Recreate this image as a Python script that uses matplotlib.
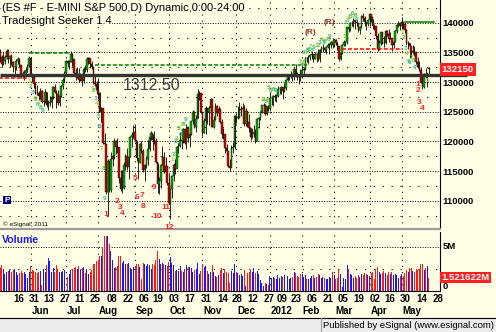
import pandas as pd
import matplotlib
matplotlib.use('Agg')
import matplotlib.pyplot as plt
from matplotlib.transforms import blended_transform_factory as blend
from matplotlib.patches import Rectangle
from matplotlib.lines import Line2D

plt.rcParams['font.family'] = ['Liberation Sans', 'DejaVu Sans']

W, H = 496, 332

title = '(ES #F - E-MINI S&P 500,D) Dynamic,0:00-24:00'
study = 'Tradesight Seeker 1.4'

# trading calendar of the chart (exchange holidays left out)
first_day = '2011-05-02'
last_day = '2012-05-24'
holidays = ['2011-05-30', '2011-07-04', '2011-09-05', '2011-11-24', '2011-12-26',
            '2012-01-02', '2012-01-16', '2012-02-20', '2012-04-06']

# daily bars, one line per month (May 2011 .. May 2012)
opens = [
    1360, 1356, 1352, 1343, 1331, 1336, 1342, 1353, 1338, 1344, 1333, 1325, 1325, 1336, 1339, 1329, 1313, 1312, 1316, 1321, 1327,
    1341, 1310, 1309, 1296, 1282, 1281, 1276, 1285, 1267, 1268, 1284, 1261, 1264, 1267, 1274, 1291, 1283, 1280, 1265, 1277, 1293, 1303,
    1316, 1335, 1332, 1334, 1348, 1339, 1315, 1309, 1313, 1304, 1311, 1301, 1322, 1321, 1339, 1340, 1331, 1326, 1300, 1296,
    1287, 1282, 1250, 1256, 1197, 1195, 1115, 1167, 1118, 1170, 1176, 1201, 1191, 1190, 1139, 1119, 1121, 1161, 1175, 1156, 1174, 1208, 1211,
    1216, 1202, 1172, 1163, 1196, 1184, 1152, 1160, 1171, 1187, 1207, 1214, 1202, 1200, 1165, 1128, 1134, 1161, 1173, 1149, 1158,
    1129, 1096, 1120, 1141, 1161, 1153, 1191, 1192, 1203, 1200, 1220, 1197, 1222, 1206, 1212, 1234, 1250, 1225, 1238, 1280, 1281,
    1249, 1214, 1234, 1257, 1249, 1257, 1272, 1225, 1236, 1260, 1248, 1254, 1233, 1212, 1212, 1189, 1184, 1158, 1155, 1189, 1191,
    1243, 1240, 1240, 1253, 1254, 1257, 1230, 1251, 1232, 1222, 1208, 1212, 1216, 1201, 1237, 1239, 1250, 1261, 1262, 1246, 1259,
    1254, 1273, 1273, 1277, 1274, 1276, 1288, 1288, 1291, 1285, 1290, 1304, 1310, 1311, 1312, 1311, 1322, 1314, 1312, 1309,
    1308, 1320, 1322, 1341, 1340, 1343, 1346, 1348, 1339, 1348, 1347, 1339, 1354, 1357, 1358, 1354, 1359, 1362, 1363, 1368,
    1362, 1370, 1366, 1360, 1339, 1349, 1362, 1367, 1367, 1392, 1390, 1399, 1400, 1405, 1401, 1399, 1388, 1393, 1412, 1408, 1401, 1398,
    1404, 1414, 1409, 1395, 1394, 1378, 1355, 1365, 1384, 1366, 1365, 1386, 1381, 1372, 1374, 1363, 1367, 1386, 1396, 1399,
    1394, 1402, 1398, 1387, 1365, 1366, 1360, 1351, 1353, 1350, 1334, 1326, 1320, 1300, 1292, 1314, 1312, 1324,
]
highs = [
    1366, 1358, 1355, 1346, 1350, 1345, 1355, 1356, 1346, 1347, 1335, 1328, 1338, 1342, 1340, 1324, 1319, 1320, 1326, 1330, 1344,
    1343, 1316, 1313, 1300, 1295, 1285, 1290, 1286, 1275, 1288, 1284, 1270, 1276, 1277, 1294, 1296, 1286, 1286, 1281, 1295, 1306, 1319,
    1337, 1337, 1337, 1352, 1349, 1338, 1323, 1326, 1323, 1316, 1312, 1325, 1329, 1343, 1343, 1337, 1335, 1327, 1313, 1301,
    1306, 1284, 1258, 1255, 1214, 1177, 1171, 1166, 1182, 1189, 1205, 1203, 1206, 1189, 1151, 1151, 1166, 1179, 1189, 1179, 1209, 1216, 1227,
    1228, 1201, 1172, 1197, 1201, 1187, 1162, 1175, 1202, 1208, 1218, 1213, 1217, 1205, 1163, 1140, 1162, 1192, 1182, 1174, 1157,
    1145, 1122, 1143, 1163, 1170, 1192, 1197, 1215, 1204, 1222, 1221, 1230, 1226, 1216, 1235, 1253, 1251, 1245, 1288, 1285, 1278,
    1238, 1240, 1260, 1257, 1259, 1273, 1263, 1243, 1264, 1262, 1259, 1257, 1238, 1222, 1206, 1196, 1184, 1170, 1194, 1199, 1245,
    1247, 1259, 1266, 1260, 1264, 1262, 1256, 1251, 1246, 1223, 1222, 1227, 1221, 1239, 1241, 1251, 1262, 1264, 1263, 1260, 1262,
    1284, 1276, 1278, 1280, 1279, 1293, 1290, 1294, 1291, 1299, 1305, 1313, 1312, 1319, 1313, 1324, 1331, 1317, 1312, 1322,
    1328, 1325, 1343, 1343, 1346, 1348, 1353, 1346, 1351, 1349, 1355, 1355, 1360, 1364, 1359, 1361, 1365, 1365, 1369, 1375,
    1373, 1372, 1367, 1357, 1350, 1364, 1371, 1369, 1393, 1396, 1401, 1403, 1408, 1404, 1405, 1398, 1395, 1413, 1417, 1411, 1402, 1406,
    1416, 1415, 1406, 1397, 1393, 1382, 1370, 1385, 1384, 1377, 1388, 1387, 1389, 1385, 1373, 1370, 1388, 1397, 1403, 1400,
    1410, 1402, 1400, 1389, 1369, 1365, 1360, 1362, 1361, 1348, 1342, 1336, 1325, 1310, 1315, 1323, 1316, 1325,
]
lows = [
    1352, 1344, 1333, 1326, 1328, 1330, 1339, 1332, 1325, 1328, 1317, 1309, 1320, 1331, 1325, 1306, 1306, 1304, 1311, 1317, 1326,
    1308, 1300, 1290, 1280, 1278, 1270, 1272, 1264, 1260, 1265, 1258, 1253, 1260, 1256, 1271, 1281, 1257, 1262, 1260, 1274, 1289, 1300,
    1313, 1326, 1322, 1333, 1327, 1313, 1303, 1307, 1300, 1301, 1293, 1299, 1317, 1317, 1331, 1323, 1322, 1297, 1293, 1279,
    1271, 1249, 1233, 1196, 1161, 1111, 1075, 1114, 1115, 1159, 1171, 1179, 1181, 1129, 1116, 1113, 1119, 1151, 1151, 1136, 1174, 1191, 1206,
    1200, 1167, 1136, 1163, 1180, 1148, 1133, 1155, 1160, 1183, 1203, 1185, 1195, 1163, 1113, 1111, 1122, 1160, 1147, 1137, 1127,
    1095, 1069, 1105, 1134, 1145, 1155, 1180, 1190, 1187, 1198, 1195, 1187, 1199, 1190, 1210, 1230, 1222, 1216, 1240, 1270, 1247,
    1209, 1214, 1212, 1230, 1228, 1249, 1224, 1222, 1236, 1242, 1236, 1231, 1206, 1204, 1181, 1176, 1156, 1150, 1164, 1181, 1187,
    1231, 1237, 1240, 1242, 1236, 1226, 1226, 1224, 1216, 1202, 1206, 1208, 1198, 1200, 1222, 1236, 1248, 1254, 1244, 1245, 1252,
    1252, 1262, 1260, 1268, 1267, 1274, 1280, 1279, 1272, 1283, 1286, 1302, 1304, 1306, 1302, 1303, 1308, 1303, 1296, 1302,
    1307, 1314, 1321, 1333, 1331, 1337, 1339, 1333, 1338, 1334, 1336, 1334, 1351, 1351, 1350, 1347, 1357, 1347, 1358, 1358,
    1359, 1362, 1354, 1336, 1337, 1348, 1360, 1360, 1364, 1384, 1386, 1395, 1393, 1390, 1395, 1384, 1381, 1391, 1403, 1394, 1387, 1394,
    1395, 1402, 1390, 1388, 1373, 1353, 1354, 1363, 1364, 1359, 1364, 1377, 1368, 1372, 1352, 1358, 1367, 1382, 1393, 1388,
    1390, 1390, 1382, 1363, 1356, 1341, 1340, 1348, 1344, 1331, 1324, 1319, 1299, 1288, 1290, 1306, 1292, 1310,
]
closes = [
    1356, 1352, 1343, 1331, 1336, 1342, 1353, 1338, 1344, 1333, 1325, 1325, 1336, 1339, 1329, 1313, 1312, 1316, 1321, 1327, 1341,
    1310, 1309, 1296, 1282, 1281, 1276, 1285, 1267, 1268, 1284, 1261, 1264, 1267, 1274, 1291, 1283, 1280, 1265, 1277, 1293, 1303, 1316,
    1335, 1332, 1334, 1348, 1339, 1315, 1309, 1313, 1304, 1311, 1301, 1322, 1321, 1339, 1340, 1331, 1326, 1300, 1296, 1287,
    1282, 1250, 1256, 1197, 1195, 1115, 1167, 1118, 1170, 1176, 1201, 1191, 1190, 1139, 1119, 1121, 1161, 1175, 1156, 1174, 1208, 1211, 1216,
    1202, 1172, 1163, 1196, 1184, 1152, 1160, 1171, 1187, 1207, 1214, 1202, 1200, 1165, 1128, 1134, 1161, 1173, 1149, 1158, 1129,
    1096, 1120, 1141, 1161, 1153, 1191, 1192, 1203, 1200, 1220, 1197, 1222, 1206, 1212, 1234, 1250, 1225, 1238, 1280, 1281, 1249,
    1214, 1234, 1257, 1249, 1257, 1272, 1225, 1236, 1260, 1248, 1254, 1233, 1212, 1212, 1189, 1184, 1158, 1155, 1189, 1191, 1243,
    1240, 1240, 1253, 1254, 1257, 1230, 1251, 1232, 1222, 1208, 1212, 1216, 1201, 1237, 1239, 1250, 1261, 1262, 1246, 1259, 1254,
    1273, 1273, 1277, 1274, 1276, 1288, 1288, 1291, 1285, 1290, 1304, 1310, 1311, 1312, 1311, 1322, 1314, 1312, 1309, 1308,
    1320, 1322, 1341, 1340, 1343, 1346, 1348, 1339, 1348, 1347, 1339, 1354, 1357, 1358, 1354, 1359, 1362, 1363, 1368, 1362,
    1370, 1366, 1360, 1339, 1349, 1362, 1367, 1367, 1392, 1390, 1399, 1400, 1405, 1401, 1399, 1388, 1393, 1412, 1408, 1401, 1398, 1404,
    1414, 1409, 1395, 1394, 1378, 1355, 1365, 1384, 1366, 1365, 1386, 1381, 1372, 1374, 1363, 1367, 1386, 1396, 1399, 1394,
    1402, 1398, 1387, 1365, 1366, 1360, 1351, 1353, 1350, 1334, 1326, 1320, 1300, 1292, 1314, 1312, 1315, 1321.5,
]
# volume in millions of contracts
volumes = [
    2.2, 2.3, 2.6, 2.9, 2.5, 1.9, 2.1, 2.3, 2.4, 2.2, 2.4, 2.5, 2.1, 1.8, 2.0, 2.3, 2.0, 2.1, 1.9, 1.5, 2.2,
    2.8, 2.4, 2.3, 2.1, 2.0, 2.2, 2.3, 0.7, 2.5, 2.2, 2.9, 3.7, 3.4, 2.2, 2.6, 2.2, 2.9, 2.5, 2.1, 2.2, 2.3, 2.4,
    2.1, 1.6, 1.9, 2.4, 2.5, 2.6, 2.7, 2.5, 2.8, 2.4, 2.6, 2.7, 2.0, 2.5, 1.9, 2.2, 2.4, 3.1, 3.0, 3.4,
    3.5, 3.9, 4.0, 5.0, 6.2, 6.2, 6.2, 5.3, 4.5, 3.5, 2.6, 2.7, 2.8, 4.0, 3.9, 3.2, 3.4, 3.1, 3.0, 3.2, 2.6, 2.5, 2.7,
    2.8, 3.0, 3.1, 2.7, 1.3, 3.2, 3.0, 2.8, 3.1, 2.9, 2.5, 3.0, 2.9, 3.5, 4.5, 3.6, 3.0, 3.2, 3.0, 2.9, 2.8,
    3.3, 3.8, 3.2, 2.9, 2.3, 2.4, 2.3, 2.8, 2.3, 2.1, 2.5, 2.9, 2.7, 2.7, 2.6, 2.2, 2.4, 2.5, 3.2, 1.9, 2.3,
    3.0, 2.7, 2.8, 2.3, 1.9, 2.1, 2.9, 2.2, 1.7, 1.6, 1.8, 2.4, 2.6, 2.0, 2.5, 2.2, 2.0, 0.9, 2.3, 2.0, 3.0,
    2.2, 2.0, 1.8, 1.9, 1.7, 2.4, 0.6, 2.0, 2.2, 2.4, 2.1, 2.6, 2.0, 2.3, 1.9, 1.2, 0.9, 0.6, 0.9, 0.8, 0.7,
    1.7, 1.5, 1.6, 1.5, 1.3, 1.8, 1.5, 1.7, 1.6, 1.8, 1.6, 1.7, 1.4, 1.5, 1.6, 2.1, 2.0, 1.7, 1.6, 1.9,
    1.9, 1.6, 1.8, 1.3, 1.4, 1.5, 1.7, 1.8, 1.5, 1.6, 1.9, 1.8, 1.5, 1.6, 1.5, 1.4, 1.3, 1.6, 1.5, 2.1,
    1.8, 1.4, 1.5, 2.4, 1.9, 0.4, 1.5, 1.4, 2.9, 2.5, 1.9, 1.8, 1.5, 1.7, 1.5, 1.8, 1.6, 1.9, 1.8, 2.0, 1.9, 1.8,
    1.7, 2.0, 2.1, 1.4, 2.5, 2.7, 2.2, 1.9, 2.0, 2.3, 2.0, 1.8, 2.2, 1.9, 2.2, 1.8, 1.9, 1.8, 1.5, 1.7,
    1.9, 1.7, 2.0, 2.4, 2.1, 2.6, 2.6, 2.3, 2.2, 2.5, 2.4, 2.5, 3.0, 3.1, 2.4, 2.6, 2.8, 1.521622,
]

price_ticks = [1100, 1150, 1200, 1250, 1300, 1350, 1400]
minor_ticks = [1075, 1125, 1175, 1225, 1275, 1325, 1375, 1425]

tick_dates = ['2011-05-16', '2011-05-31', '2011-06-13', '2011-06-27', '2011-07-11', '2011-07-25',
              '2011-08-08', '2011-08-22', '2011-09-06', '2011-09-19', '2011-10-03', '2011-10-17',
              '2011-10-31', '2011-11-14', '2011-11-28', '2011-12-12', '2011-12-27', '2012-01-09',
              '2012-01-23', '2012-02-06', '2012-02-21', '2012-03-05', '2012-03-19', '2012-04-02',
              '2012-04-16', '2012-04-30', '2012-05-14', '2012-05-28']
tick_labels = ['16', '31', '13', '27', '11', '25', '08', '22', '06', '19', '03', '17', '31', '14',
               '28', '12', '27', '09', '23', '06', '21', '05', '19', '02', '16', '30', '14', '28']
month_dates = ['2011-06-01', '2011-07-01', '2011-08-01', '2011-09-01', '2011-10-03', '2011-11-01',
               '2011-12-01', '2012-01-03', '2012-02-01', '2012-03-01', '2012-04-02', '2012-05-01']
month_labels = ['Jun', 'Jul', 'Aug', 'Sep', 'Oct', 'Nov', 'Dec', '2012', 'Feb', 'Mar', 'Apr', 'May']

key_level = 1312.50

# study lines: level, from, to
line_levels = [1307.5, 1348.5, 1329.0, 1355.5, 1402.0]
line_from = ['2011-05-02', '2011-05-31', '2011-07-28', '2012-03-08', '2012-05-03']
line_to = ['2011-05-31', '2011-07-06', '2012-02-06', '2012-05-02', '2012-05-29']
line_colors = ['#ff0000', '#008000', '#008000', '#ff0000', '#008000']
line_dashed = [True, True, True, True, False]

# setup counts: first bar, how many, side
setup_from = ['2011-06-01', '2011-07-27', '2011-10-06', '2011-12-27', '2012-02-01',
              '2012-02-15', '2012-03-12', '2012-05-02', '2012-05-24']
setup_len = [9, 9, 9, 9, 9, 9, 9, 9, 1]
setup_side = ['down', 'down', 'up', 'up', 'up', 'up', 'up', 'down', 'down']

# countdown numbers: bar, price
count_text = ['1', '2', '3', '4', '5', '6', '7', '8', '9', '10', '11', '12', '1', '2', '3', '4']
count_dates = ['2011-08-08', '2011-08-17', '2011-08-19', '2011-08-22', '2011-09-01', '2011-09-02',
               '2011-09-08', '2011-09-09', '2011-09-20', '2011-09-22', '2011-09-29', '2011-10-03',
               '2012-05-15', '2012-05-15', '2012-05-16', '2012-05-18']
count_prices = [1076, 1098, 1088, 1079, 1137, 1106, 1108, 1091, 1123, 1073, 1089, 1054,
                1295, 1285, 1266, 1255]

recycle_dates = ['2012-02-08', '2012-02-27']


def fx(x):
    return x / W


def fy(y):
    return 1 - y / H


days = pd.bdate_range(first_day, last_day)
days = days[~days.isin(pd.to_datetime(holidays))]
axis_days = days.append(pd.bdate_range('2012-05-25', '2012-06-15'))


def pos(d):
    return axis_days.get_loc(pd.Timestamp(d))


idx = list(range(len(closes)))
bg = '#ffffe6'

fig = plt.figure(figsize=(W / 100, H / 100), dpi=100, facecolor=bg)
ax = fig.add_axes([0, fy(229), fx(440), 229 / H], facecolor=bg)
axv = fig.add_axes([0, fy(291), fx(440), 59 / H], facecolor=bg)

x0, x1 = 1.9, 275.9
ax.set_xlim(x0, x1)
axv.set_xlim(x0, x1)
ax.set_ylim(1052.3, 1438.25)
axv.set_ylim(0, 6.66)

# grid
for p in price_ticks:
    ax.axhline(p, color='black', lw=0.7, ls=(0, (1, 1.6)), zorder=1)
for p in minor_ticks:
    ax.axhline(p, color='black', lw=0.8, ls=(0, (1, 7)), zorder=1)
axv.axhline(5, color='black', lw=0.7, ls=(0, (1, 1.6)), zorder=1)
axv.axhline(2.5, color='black', lw=0.8, ls=(0, (1, 7)), zorder=1)
for d in month_dates:
    ax.axvline(pos(d), color='black', lw=0.8, ls=(0, (1, 4.5)), zorder=1)
    axv.axvline(pos(d), color='black', lw=0.8, ls=(0, (1, 4.5)), zorder=1)

# candles
up = [c >= o for o, c in zip(opens, closes)]
ax.vlines(idx, lows, highs, color='black', lw=0.6, zorder=3)
bottoms = [min(o, c) for o, c in zip(opens, closes)]
heights = [max(abs(c - o), 0.8) for o, c in zip(opens, closes)]
ax.bar(idx, heights, bottom=bottoms, width=0.95,
       color=['#00b400' if u else '#e00000' for u in up],
       edgecolor='black', linewidth=0.3, zorder=4)

# volume
axv.bar(idx, volumes, width=0.62, linewidth=0,
        color=['#1818ff' if u else '#ff1818' for u in up], zorder=3)

# study lines
for lv, a, b, col, dsh in zip(line_levels, line_from, line_to, line_colors, line_dashed):
    ax.plot([pos(a), pos(b)], [lv, lv], color=col, lw=1.1,
            ls=(0, (2.6, 1.3)) if dsh else '-', zorder=5)

ax.plot([x0, 292.8], [key_level, key_level], color='#333333', lw=2.4,
        zorder=6, clip_on=False, solid_capstyle='butt')
ax.text(78.5, key_level - 5, f'{key_level:.2f}', fontsize=11.5, color='#3a3a3a',
        ha='left', va='top', zorder=7)

# setup digits
setup_colors = ['#a8c020', '#40c040', '#30b0b0']
for start, n, side in zip(setup_from, setup_len, setup_side):
    i0 = pos(start)
    for k in range(n):
        i = i0 + k
        if side == 'down':
            y, va = lows[i] - 3, 'top'
        else:
            y, va = highs[i] + 3, 'bottom'
        ax.text(i - 0.8, y, str(k + 1), color=setup_colors[k % 3], fontsize=4.6,
                fontweight='bold', ha='center', va=va, zorder=7)

for t, d, p in zip(count_text, count_dates, count_prices):
    ax.text(pos(d), p, t, color='#ff2020', fontsize=6, fontweight='bold',
            ha='center', va='center', zorder=7, clip_on=True)

for d in recycle_dates:
    ax.text(pos(d), highs[pos(d)] + 36, '(R)', color='#993333', fontsize=6,
            fontweight='bold', ha='center', va='center', zorder=7)

# axes cosmetics
for a in (ax, axv):
    a.spines['top'].set_visible(False)
    a.spines['left'].set_visible(False)
    a.spines['right'].set_color('black')
    a.spines['right'].set_linewidth(0.8)
    a.set_xticks([])
ax.spines['bottom'].set_color('#9a9a9a')
ax.spines['bottom'].set_linewidth(1.6)
axv.spines['bottom'].set_linewidth(0.8)

ax.yaxis.tick_right()
ax.set_yticks(price_ticks)
ax.set_yticklabels([f'{p * 100:.0f}' for p in price_ticks])
ax.tick_params(axis='y', length=0, pad=2, labelsize=6.8)
for lab in ax.get_yticklabels():
    lab.set_fontweight('bold')
axv.set_yticks([])

tr = blend(ax.transAxes, ax.transData)
ax.text(1.004, closes[-1], f'{closes[-1] * 100:.0f}', transform=tr, ha='left', va='center',
        fontsize=6.8, fontweight='bold', color='white',
        bbox=dict(boxstyle='square,pad=0.2', fc='#ff2020', ec='none'), zorder=8)

trv = blend(axv.transAxes, axv.transData)
axv.text(1.006, 5, '5M', transform=trv, ha='left', va='center', fontsize=6.8, fontweight='bold')
axv.text(1.006, 0, '0', transform=trv, ha='left', va='bottom', fontsize=6.8, fontweight='bold')
axv.text(1.004, volumes[-1], f'{volumes[-1]:.6f}M', transform=trv, ha='left', va='center',
         fontsize=6.8, fontweight='bold', color='white',
         bbox=dict(boxstyle='square,pad=0.15', fc='#ff2020', ec='none'), zorder=8)

# date labels
trd = blend(axv.transData, fig.transFigure)
for d, lab in zip(tick_dates, tick_labels):
    axv.text(pos(d), fy(298.5), lab, transform=trd, ha='left', va='center',
             fontsize=7, fontweight='bold', clip_on=False)
for d, lab in zip(month_dates, month_labels):
    axv.text(pos(d) + 0.5, fy(311), lab, transform=trd, ha='left', va='center',
             fontsize=7, fontweight='bold', clip_on=False)

# texts on the chart
fig.text(fx(2), fy(8), title, fontsize=8, ha='left', va='center',
         bbox=dict(boxstyle='square,pad=0.05', fc=bg, ec='none'))
fig.text(fx(2), fy(21), study, fontsize=8, ha='left', va='center',
         bbox=dict(boxstyle='square,pad=0.05', fc=bg, ec='none'))
fig.text(fx(2), fy(240), 'Volume', fontsize=7.6, fontweight='bold', color='#1c1cff',
         ha='left', va='center')
fig.text(fx(3), fy(224), '\u00a9 eSignal, 2011', fontsize=4.6, ha='left', va='center')
fig.add_artist(Rectangle((fx(3), fy(204)), 8 / W, 8 / H, transform=fig.transFigure,
                         fc='#000080', ec='none'))
fig.text(fx(7), fy(200), 'P', fontsize=6, fontweight='bold', color='white',
         ha='center', va='center')

# publisher strip
fig.add_artist(Rectangle((0, 0), 1, 14 / H, transform=fig.transFigure, fc='#ececec', ec='none'))
fig.add_artist(Line2D([0, 1], [fy(317.5), fy(317.5)], color='black', lw=0.8))
fig.add_artist(Line2D([fx(321), fx(321)], [0, fy(318)], color='#a0a0a0', lw=0.8))
fig.text(fx(323), fy(325), 'Published by eSignal (www.esignal.com)', fontsize=6.8,
         ha='left', va='center')

fig.savefig('out.png', dpi=100, facecolor=bg)
